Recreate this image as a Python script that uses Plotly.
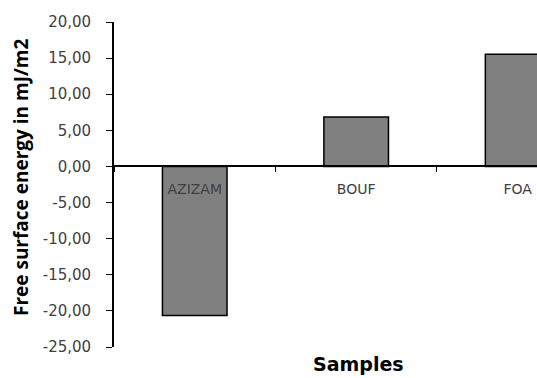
import plotly.graph_objects as go

categories = ["AZIZAM", "BOUF", "FOA"]
values = [-20.65, 6.86, 15.54]
y_ticks = [20, 15, 10, 5, 0, -5, -10, -15, -20, -25]
y_tick_labels = ["20,00", "15,00", "10,00", "5,00", "0,00", "-5,00", "-10,00", "-15,00", "-20,00", "-25,00"]

W, H = 537, 378
L, R, T, B = 114, 0, 22, 31

fig = go.Figure()
fig.add_trace(go.Bar(
    x=categories, y=values,
    marker=dict(color="#808080", line=dict(color="#000000", width=1.5)),
    width=0.4,
))

zero_pos = 25 / 45
tick_font = "DejaVu Sans, Liberation Sans, sans-serif"

fig.update_layout(
    width=W, height=H,
    margin=dict(l=L, r=R, t=T, b=B),
    paper_bgcolor="white", plot_bgcolor="white",
    showlegend=False,
    font=dict(family=tick_font, color="#404040", size=14),
    xaxis=dict(
        type="category",
        range=[-0.5, 2.12],
        anchor="free", position=zero_pos,
        showline=True, linecolor="#000000", linewidth=1.8,
        ticks="outside", ticklen=5, tickcolor="#000000", tickwidth=1.2,
        tickson="boundaries",
        showgrid=False, zeroline=False,
        tickfont=dict(size=14, color="#404040", family=tick_font),
        ticklabelstandoff=10,
    ),
    yaxis=dict(
        range=[-25, 20],
        tickvals=y_ticks, ticktext=y_tick_labels,
        showline=True, linecolor="#000000", linewidth=1.8,
        ticks="outside", ticklen=6, tickcolor="#000000", tickwidth=1.2,
        showgrid=False, zeroline=False,
        tickfont=dict(size=15, color="#404040", family=tick_font),
        ticklabelstandoff=12,
    ),
    bargap=0.6,
)

fig.add_annotation(
    text="<b>Free surface energy in mJ/m2</b>", xref="paper", yref="paper",
    x=-(L - 21) / (W - L - R), y=(H - B - 178) / (H - T - B),
    xanchor="center", yanchor="middle", textangle=-90, showarrow=False,
    font=dict(size=19, color="#000000", family="Open Sans, Liberation Sans, sans-serif"),
)

fig.add_annotation(
    text="<b>Samples</b>", xref="paper", yref="paper",
    x=(358 - L) / (W - L - R), y=-(364 - (H - B)) / (H - T - B),
    xanchor="center", yanchor="middle", showarrow=False,
    font=dict(size=19, color="#000000", family="DejaVu Sans, Liberation Sans, sans-serif"),
)

fig.write_html("out.html")
